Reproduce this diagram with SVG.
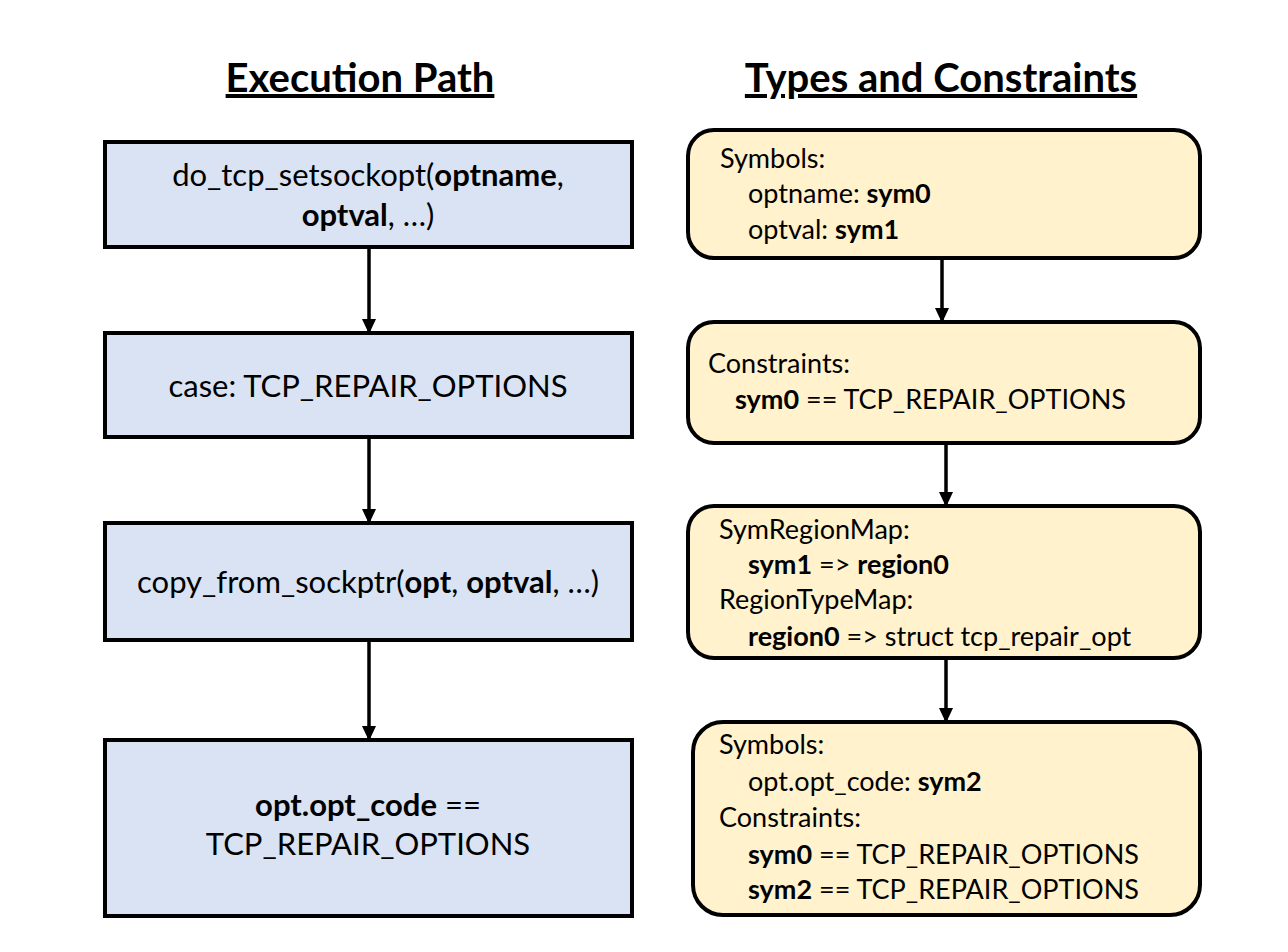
<svg xmlns="http://www.w3.org/2000/svg" width="1288" height="952" viewBox="0 0 1288 952">
<style>
text{font-family:Lato,"Liberation Sans",sans-serif;fill:#000}
.title{font-size:40px;font-weight:bold;text-decoration:underline}
.l{font-size:31px;text-anchor:middle}
.r{font-size:27px}
.b{font-weight:bold}
.blue{fill:#DAE3F3;stroke:#000;stroke-width:4}
.yel{fill:#FFF2CC;stroke:#000;stroke-width:4}
.conn{stroke:#000;stroke-width:3.5;fill:none;marker-end:url(#ah)}
</style>
<defs>
<marker id="ah" markerWidth="16" markerHeight="14" refX="14" refY="7" orient="auto" markerUnits="userSpaceOnUse">
<path d="M0,0 L15,7 L0,14 z" fill="#000"/>
</marker>
</defs>
<rect width="1288" height="952" fill="#fff"/>
<text class="title" x="360" y="92" text-anchor="middle">Execution Path</text>
<text class="title" x="941" y="92" text-anchor="middle">Types and Constraints</text>

<g id="connectors">
<line class="conn" x1="369" y1="247" x2="369" y2="333"/>
<line class="conn" x1="369" y1="437" x2="369" y2="523"/>
<line class="conn" x1="369" y1="640" x2="369" y2="740"/>
<line class="conn" x1="942" y1="258" x2="942" y2="322"/>
<line class="conn" x1="946" y1="443" x2="946" y2="506"/>
<line class="conn" x1="946" y1="658" x2="946" y2="722"/>
</g>

<g id="exec1">
<rect class="blue" x="105" y="142" width="527" height="105"/>
<text class="l" x="368" y="186">do_tcp_setsockopt(<tspan class="b">optname</tspan>,</text>
<text class="l" x="368" y="226"><tspan class="b">optval</tspan>, …)</text>
</g>
<g id="exec2">
<rect class="blue" x="105" y="333" width="527" height="104"/>
<text class="l" x="368" y="397">case: TCP_REPAIR_OPTIONS</text>
</g>
<g id="exec3">
<rect class="blue" x="105" y="523" width="527" height="117"/>
<text class="l" x="368" y="593">copy_from_sockptr(<tspan class="b">opt</tspan>, <tspan class="b">optval</tspan>, …)</text>
</g>
<g id="exec4">
<rect class="blue" x="105" y="740" width="527" height="176"/>
<text class="l" x="368" y="816"><tspan class="b">opt.opt_code</tspan> ==</text>
<text class="l" x="368" y="855">TCP_REPAIR_OPTIONS</text>
</g>

<g id="types1">
<rect class="yel" x="688" y="130" width="512" height="128" rx="26"/>
<text class="r" x="720" y="168">Symbols:</text>
<text class="r" x="748" y="203">optname: <tspan class="b">sym0</tspan></text>
<text class="r" x="748" y="239">optval: <tspan class="b">sym1</tspan></text>
</g>
<g id="types2">
<rect class="yel" x="688" y="322" width="512" height="121" rx="26"/>
<text class="r" x="708" y="373">Constraints:</text>
<text class="r" x="735" y="409"><tspan class="b">sym0</tspan> == TCP_REPAIR_OPTIONS</text>
</g>
<g id="types3">
<rect class="yel" x="688" y="506" width="512" height="152" rx="26"/>
<text class="r" x="719" y="539">SymRegionMap:</text>
<text class="r" x="748" y="574"><tspan class="b">sym1</tspan> =&gt; <tspan class="b">region0</tspan></text>
<text class="r" x="719" y="609">RegionTypeMap:</text>
<text class="r" x="748" y="646"><tspan class="b">region0</tspan> =&gt; struct tcp_repair_opt</text>
</g>
<g id="types4">
<rect class="yel" x="693" y="722" width="507" height="193" rx="30"/>
<text class="r" x="719" y="754">Symbols:</text>
<text class="r" x="748" y="791">opt.opt_code: <tspan class="b">sym2</tspan></text>
<text class="r" x="719" y="827">Constraints:</text>
<text class="r" x="748" y="864"><tspan class="b">sym0</tspan> == TCP_REPAIR_OPTIONS</text>
<text class="r" x="748" y="899"><tspan class="b">sym2</tspan> == TCP_REPAIR_OPTIONS</text>
</g>
</svg>
